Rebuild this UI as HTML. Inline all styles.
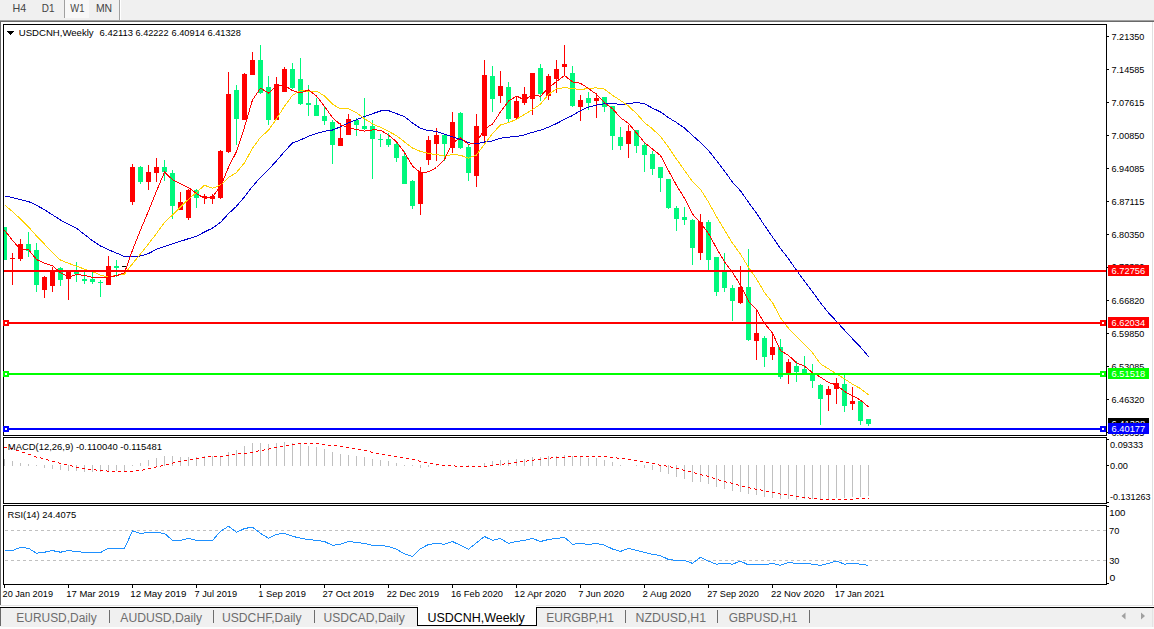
<!DOCTYPE html>
<html><head><meta charset="utf-8"><title>USDCNH,Weekly</title>
<style>html,body{margin:0;padding:0;background:#fff;width:1154px;height:629px;overflow:hidden}svg{display:block}text{font-family:"Liberation Sans", sans-serif}</style>
</head><body><svg width="1154" height="629" viewBox="0 0 1154 629" shape-rendering="crispEdges" font-family='"Liberation Sans", sans-serif'><rect x="0" y="0" width="1154" height="629" fill="#FFFFFF"/>
<rect x="0" y="0" width="1154" height="20" fill="#F0F0F0"/>
<rect x="0" y="20" width="1154" height="1" fill="#A0A0A0"/>
<rect x="0" y="21" width="1154" height="1" fill="#696969"/>
<rect x="65" y="0" width="24" height="18" fill="#F8F8F8"/>
<rect x="64" y="0" width="1" height="18" fill="#A0A0A0"/>
<rect x="119" y="0" width="1" height="20" fill="#A0A0A0"/>
<rect x="120" y="0" width="1" height="20" fill="#FFFFFF"/>
<text x="12.62" y="12" font-size="10.5" fill="#444" textLength="13.69" lengthAdjust="spacingAndGlyphs">H4</text>
<text x="41.79" y="12" font-size="10.5" fill="#444" textLength="12.71" lengthAdjust="spacingAndGlyphs">D1</text>
<text x="70.35" y="12" font-size="10.5" fill="#444" textLength="14.11" lengthAdjust="spacingAndGlyphs">W1</text>
<text x="95.95" y="12" font-size="10.5" fill="#444" textLength="16.20" lengthAdjust="spacingAndGlyphs">MN</text>
<rect x="0" y="22" width="1" height="583" fill="#696969"/>
<rect x="1152" y="22" width="1" height="583" fill="#E0E0E0"/>
<rect x="0" y="605" width="1154" height="1" fill="#E3E3E3"/>
<rect x="3" y="24" width="1104" height="1" fill="#000000"/>
<rect x="3" y="435" width="1104" height="1" fill="#000000"/>
<rect x="3" y="24" width="1" height="412" fill="#000000"/>
<rect x="1106" y="24" width="1" height="412" fill="#000000"/>
<rect x="3" y="437" width="1104" height="1" fill="#000000"/>
<rect x="3" y="503" width="1104" height="1" fill="#000000"/>
<rect x="3" y="437" width="1" height="67" fill="#000000"/>
<rect x="1106" y="437" width="1" height="67" fill="#000000"/>
<rect x="3" y="505" width="1104" height="1" fill="#000000"/>
<rect x="3" y="584" width="1104" height="1" fill="#000000"/>
<rect x="3" y="505" width="1" height="80" fill="#000000"/>
<rect x="1106" y="505" width="1" height="80" fill="#000000"/>
<defs><clipPath id="cm"><rect x="4" y="25" width="1102" height="410"/></clipPath><clipPath id="cmacd"><rect x="4" y="438" width="1102" height="65"/></clipPath><clipPath id="crsi"><rect x="4" y="506" width="1102" height="78"/></clipPath></defs>
<g clip-path="url(#cm)">
<rect x="4" y="227" width="1" height="33" fill="#00F87C"/>
<rect x="2" y="227" width="5" height="33" fill="#00F87C"/>
<rect x="12" y="253" width="1" height="32" fill="#FF0000"/>
<rect x="10" y="258" width="5" height="1" fill="#FF0000"/>
<rect x="20" y="239" width="1" height="22" fill="#FF0000"/>
<rect x="18" y="244" width="5" height="15" fill="#FF0000"/>
<rect x="28" y="232" width="1" height="25" fill="#00F87C"/>
<rect x="26" y="244" width="5" height="7" fill="#00F87C"/>
<rect x="36" y="243" width="1" height="49" fill="#00F87C"/>
<rect x="34" y="250" width="5" height="35" fill="#00F87C"/>
<rect x="44" y="276" width="1" height="22" fill="#FF0000"/>
<rect x="42" y="277" width="5" height="13" fill="#FF0000"/>
<rect x="52" y="267" width="1" height="25" fill="#FF0000"/>
<rect x="50" y="271" width="5" height="15" fill="#FF0000"/>
<rect x="60" y="267" width="1" height="19" fill="#00F87C"/>
<rect x="58" y="268" width="5" height="12" fill="#00F87C"/>
<rect x="68" y="270" width="1" height="30" fill="#FF0000"/>
<rect x="66" y="271" width="5" height="8" fill="#FF0000"/>
<rect x="76" y="262" width="1" height="20" fill="#00F87C"/>
<rect x="74" y="272" width="5" height="2" fill="#00F87C"/>
<rect x="84" y="272" width="1" height="12" fill="#00F87C"/>
<rect x="82" y="279" width="5" height="2" fill="#00F87C"/>
<rect x="92" y="272" width="1" height="12" fill="#00F87C"/>
<rect x="90" y="279" width="5" height="3" fill="#00F87C"/>
<rect x="100" y="280" width="1" height="17" fill="#00F87C"/>
<rect x="98" y="282" width="5" height="1" fill="#00F87C"/>
<rect x="108" y="256" width="1" height="29" fill="#FF0000"/>
<rect x="106" y="266" width="5" height="19" fill="#FF0000"/>
<rect x="116" y="260" width="1" height="17" fill="#00F87C"/>
<rect x="114" y="266" width="5" height="2" fill="#00F87C"/>
<rect x="124" y="266" width="1" height="1" fill="#000000"/>
<rect x="122" y="266" width="5" height="1" fill="#000000"/>
<rect x="132" y="164" width="1" height="41" fill="#FF0000"/>
<rect x="130" y="167" width="5" height="35" fill="#FF0000"/>
<rect x="140" y="166" width="1" height="18" fill="#00F87C"/>
<rect x="138" y="167" width="5" height="15" fill="#00F87C"/>
<rect x="148" y="165" width="1" height="25" fill="#FF0000"/>
<rect x="146" y="172" width="5" height="10" fill="#FF0000"/>
<rect x="156" y="158" width="1" height="24" fill="#FF0000"/>
<rect x="154" y="167" width="5" height="6" fill="#FF0000"/>
<rect x="164" y="160" width="1" height="21" fill="#00F87C"/>
<rect x="162" y="167" width="5" height="5" fill="#00F87C"/>
<rect x="172" y="170" width="1" height="49" fill="#00F87C"/>
<rect x="170" y="173" width="5" height="33" fill="#00F87C"/>
<rect x="180" y="192" width="1" height="18" fill="#FF0000"/>
<rect x="178" y="202" width="5" height="8" fill="#FF0000"/>
<rect x="188" y="189" width="1" height="31" fill="#FF0000"/>
<rect x="186" y="190" width="5" height="28" fill="#FF0000"/>
<rect x="196" y="189" width="1" height="19" fill="#00F87C"/>
<rect x="194" y="190" width="5" height="8" fill="#00F87C"/>
<rect x="204" y="194" width="1" height="10" fill="#FF0000"/>
<rect x="202" y="196" width="5" height="2" fill="#FF0000"/>
<rect x="212" y="194" width="1" height="10" fill="#FF0000"/>
<rect x="210" y="196" width="5" height="3" fill="#FF0000"/>
<rect x="220" y="150" width="1" height="49" fill="#FF0000"/>
<rect x="218" y="151" width="5" height="47" fill="#FF0000"/>
<rect x="228" y="72" width="1" height="81" fill="#FF0000"/>
<rect x="226" y="94" width="5" height="58" fill="#FF0000"/>
<rect x="236" y="85" width="1" height="60" fill="#00F87C"/>
<rect x="234" y="90" width="5" height="29" fill="#00F87C"/>
<rect x="244" y="73" width="1" height="47" fill="#FF0000"/>
<rect x="242" y="74" width="5" height="46" fill="#FF0000"/>
<rect x="252" y="52" width="1" height="23" fill="#FF0000"/>
<rect x="250" y="60" width="5" height="15" fill="#FF0000"/>
<rect x="260" y="45" width="1" height="49" fill="#00F87C"/>
<rect x="258" y="60" width="5" height="33" fill="#00F87C"/>
<rect x="268" y="76" width="1" height="49" fill="#00F87C"/>
<rect x="266" y="87" width="5" height="33" fill="#00F87C"/>
<rect x="276" y="77" width="1" height="43" fill="#FF0000"/>
<rect x="274" y="84" width="5" height="36" fill="#FF0000"/>
<rect x="284" y="67" width="1" height="25" fill="#FF0000"/>
<rect x="282" y="69" width="5" height="23" fill="#FF0000"/>
<rect x="292" y="63" width="1" height="26" fill="#00F87C"/>
<rect x="290" y="69" width="5" height="19" fill="#00F87C"/>
<rect x="300" y="58" width="1" height="47" fill="#00F87C"/>
<rect x="298" y="79" width="5" height="25" fill="#00F87C"/>
<rect x="308" y="85" width="1" height="31" fill="#00F87C"/>
<rect x="306" y="103" width="5" height="2" fill="#00F87C"/>
<rect x="316" y="98" width="1" height="18" fill="#00F87C"/>
<rect x="314" y="105" width="5" height="11" fill="#00F87C"/>
<rect x="324" y="106" width="1" height="19" fill="#00F87C"/>
<rect x="322" y="116" width="5" height="5" fill="#00F87C"/>
<rect x="332" y="120" width="1" height="44" fill="#00F87C"/>
<rect x="330" y="122" width="5" height="23" fill="#00F87C"/>
<rect x="340" y="123" width="1" height="23" fill="#FF0000"/>
<rect x="338" y="138" width="5" height="8" fill="#FF0000"/>
<rect x="348" y="114" width="1" height="21" fill="#FF0000"/>
<rect x="346" y="119" width="5" height="16" fill="#FF0000"/>
<rect x="356" y="118" width="1" height="18" fill="#00F87C"/>
<rect x="354" y="120" width="5" height="5" fill="#00F87C"/>
<rect x="364" y="98" width="1" height="32" fill="#00F87C"/>
<rect x="362" y="126" width="5" height="3" fill="#00F87C"/>
<rect x="372" y="120" width="1" height="59" fill="#00F87C"/>
<rect x="370" y="126" width="5" height="13" fill="#00F87C"/>
<rect x="380" y="134" width="1" height="13" fill="#00F87C"/>
<rect x="378" y="139" width="5" height="1" fill="#00F87C"/>
<rect x="388" y="133" width="1" height="14" fill="#00F87C"/>
<rect x="386" y="139" width="5" height="6" fill="#00F87C"/>
<rect x="396" y="143" width="1" height="19" fill="#00F87C"/>
<rect x="394" y="144" width="5" height="14" fill="#00F87C"/>
<rect x="404" y="151" width="1" height="33" fill="#00F87C"/>
<rect x="402" y="156" width="5" height="28" fill="#00F87C"/>
<rect x="412" y="180" width="1" height="29" fill="#00F87C"/>
<rect x="410" y="181" width="5" height="25" fill="#00F87C"/>
<rect x="420" y="167" width="1" height="48" fill="#FF0000"/>
<rect x="418" y="172" width="5" height="32" fill="#FF0000"/>
<rect x="428" y="136" width="1" height="29" fill="#FF0000"/>
<rect x="426" y="140" width="5" height="20" fill="#FF0000"/>
<rect x="436" y="128" width="1" height="33" fill="#FF0000"/>
<rect x="434" y="135" width="5" height="9" fill="#FF0000"/>
<rect x="444" y="134" width="1" height="27" fill="#00F87C"/>
<rect x="442" y="135" width="5" height="9" fill="#00F87C"/>
<rect x="452" y="112" width="1" height="41" fill="#FF0000"/>
<rect x="450" y="122" width="5" height="26" fill="#FF0000"/>
<rect x="460" y="112" width="1" height="37" fill="#00F87C"/>
<rect x="458" y="113" width="5" height="35" fill="#00F87C"/>
<rect x="468" y="145" width="1" height="36" fill="#00F87C"/>
<rect x="466" y="147" width="5" height="26" fill="#00F87C"/>
<rect x="476" y="114" width="1" height="73" fill="#FF0000"/>
<rect x="474" y="126" width="5" height="50" fill="#FF0000"/>
<rect x="484" y="60" width="1" height="82" fill="#FF0000"/>
<rect x="482" y="75" width="5" height="61" fill="#FF0000"/>
<rect x="492" y="66" width="1" height="46" fill="#00F87C"/>
<rect x="490" y="76" width="5" height="23" fill="#00F87C"/>
<rect x="500" y="71" width="1" height="32" fill="#FF0000"/>
<rect x="498" y="86" width="5" height="10" fill="#FF0000"/>
<rect x="508" y="82" width="1" height="40" fill="#00F87C"/>
<rect x="506" y="87" width="5" height="32" fill="#00F87C"/>
<rect x="516" y="96" width="1" height="24" fill="#FF0000"/>
<rect x="514" y="101" width="5" height="17" fill="#FF0000"/>
<rect x="524" y="87" width="1" height="18" fill="#FF0000"/>
<rect x="522" y="94" width="5" height="9" fill="#FF0000"/>
<rect x="532" y="73" width="1" height="42" fill="#FF0000"/>
<rect x="530" y="73" width="5" height="26" fill="#FF0000"/>
<rect x="540" y="64" width="1" height="37" fill="#00F87C"/>
<rect x="538" y="68" width="5" height="26" fill="#00F87C"/>
<rect x="548" y="74" width="1" height="26" fill="#FF0000"/>
<rect x="546" y="76" width="5" height="20" fill="#FF0000"/>
<rect x="556" y="60" width="1" height="33" fill="#FF0000"/>
<rect x="554" y="69" width="5" height="10" fill="#FF0000"/>
<rect x="564" y="45" width="1" height="31" fill="#FF0000"/>
<rect x="562" y="64" width="5" height="3" fill="#FF0000"/>
<rect x="572" y="66" width="1" height="41" fill="#00F87C"/>
<rect x="570" y="73" width="5" height="33" fill="#00F87C"/>
<rect x="580" y="95" width="1" height="26" fill="#FF0000"/>
<rect x="578" y="100" width="5" height="7" fill="#FF0000"/>
<rect x="588" y="92" width="1" height="18" fill="#00F87C"/>
<rect x="586" y="98" width="5" height="5" fill="#00F87C"/>
<rect x="596" y="93" width="1" height="25" fill="#FF0000"/>
<rect x="594" y="98" width="5" height="3" fill="#FF0000"/>
<rect x="604" y="97" width="1" height="15" fill="#00F87C"/>
<rect x="602" y="97" width="5" height="10" fill="#00F87C"/>
<rect x="612" y="106" width="1" height="44" fill="#00F87C"/>
<rect x="610" y="106" width="5" height="30" fill="#00F87C"/>
<rect x="620" y="127" width="1" height="23" fill="#00F87C"/>
<rect x="618" y="137" width="5" height="9" fill="#00F87C"/>
<rect x="628" y="125" width="1" height="33" fill="#FF0000"/>
<rect x="626" y="131" width="5" height="13" fill="#FF0000"/>
<rect x="636" y="130" width="1" height="23" fill="#00F87C"/>
<rect x="634" y="130" width="5" height="16" fill="#00F87C"/>
<rect x="644" y="143" width="1" height="29" fill="#00F87C"/>
<rect x="642" y="145" width="5" height="10" fill="#00F87C"/>
<rect x="652" y="151" width="1" height="24" fill="#00F87C"/>
<rect x="650" y="154" width="5" height="15" fill="#00F87C"/>
<rect x="660" y="167" width="1" height="25" fill="#00F87C"/>
<rect x="658" y="167" width="5" height="11" fill="#00F87C"/>
<rect x="668" y="179" width="1" height="30" fill="#00F87C"/>
<rect x="666" y="179" width="5" height="29" fill="#00F87C"/>
<rect x="676" y="206" width="1" height="25" fill="#00F87C"/>
<rect x="674" y="208" width="5" height="11" fill="#00F87C"/>
<rect x="684" y="207" width="1" height="18" fill="#00F87C"/>
<rect x="682" y="217" width="5" height="3" fill="#00F87C"/>
<rect x="692" y="219" width="1" height="46" fill="#00F87C"/>
<rect x="690" y="220" width="5" height="28" fill="#00F87C"/>
<rect x="700" y="214" width="1" height="46" fill="#FF0000"/>
<rect x="698" y="222" width="5" height="31" fill="#FF0000"/>
<rect x="708" y="220" width="1" height="50" fill="#00F87C"/>
<rect x="706" y="222" width="5" height="38" fill="#00F87C"/>
<rect x="716" y="257" width="1" height="39" fill="#00F87C"/>
<rect x="714" y="257" width="5" height="35" fill="#00F87C"/>
<rect x="724" y="253" width="1" height="39" fill="#00F87C"/>
<rect x="722" y="270" width="5" height="18" fill="#00F87C"/>
<rect x="732" y="285" width="1" height="36" fill="#00F87C"/>
<rect x="730" y="288" width="5" height="13" fill="#00F87C"/>
<rect x="740" y="266" width="1" height="38" fill="#FF0000"/>
<rect x="738" y="287" width="5" height="16" fill="#FF0000"/>
<rect x="748" y="249" width="1" height="92" fill="#00F87C"/>
<rect x="746" y="287" width="5" height="53" fill="#00F87C"/>
<rect x="756" y="310" width="1" height="50" fill="#FF0000"/>
<rect x="754" y="333" width="5" height="8" fill="#FF0000"/>
<rect x="764" y="336" width="1" height="31" fill="#00F87C"/>
<rect x="762" y="338" width="5" height="19" fill="#00F87C"/>
<rect x="772" y="333" width="1" height="27" fill="#FF0000"/>
<rect x="770" y="347" width="5" height="8" fill="#FF0000"/>
<rect x="780" y="339" width="1" height="40" fill="#00F87C"/>
<rect x="778" y="347" width="5" height="30" fill="#00F87C"/>
<rect x="788" y="359" width="1" height="25" fill="#FF0000"/>
<rect x="786" y="362" width="5" height="11" fill="#FF0000"/>
<rect x="796" y="361" width="1" height="21" fill="#00F87C"/>
<rect x="794" y="366" width="5" height="6" fill="#00F87C"/>
<rect x="804" y="356" width="1" height="17" fill="#00F87C"/>
<rect x="802" y="369" width="5" height="4" fill="#00F87C"/>
<rect x="812" y="364" width="1" height="24" fill="#00F87C"/>
<rect x="810" y="374" width="5" height="7" fill="#00F87C"/>
<rect x="820" y="384" width="1" height="41" fill="#00F87C"/>
<rect x="818" y="385" width="5" height="14" fill="#00F87C"/>
<rect x="828" y="386" width="1" height="25" fill="#FF0000"/>
<rect x="826" y="389" width="5" height="6" fill="#FF0000"/>
<rect x="836" y="378" width="1" height="26" fill="#FF0000"/>
<rect x="834" y="383" width="5" height="6" fill="#FF0000"/>
<rect x="844" y="375" width="1" height="37" fill="#00F87C"/>
<rect x="842" y="384" width="5" height="22" fill="#00F87C"/>
<rect x="852" y="387" width="1" height="23" fill="#FF0000"/>
<rect x="850" y="401" width="5" height="3" fill="#FF0000"/>
<rect x="860" y="400" width="1" height="25" fill="#00F87C"/>
<rect x="858" y="401" width="5" height="20" fill="#00F87C"/>
<rect x="868" y="419" width="1" height="7" fill="#00F87C"/>
<rect x="866" y="419" width="5" height="5" fill="#00F87C"/>
<polyline points="4.5,195.8 12.5,197.7 20.5,199.6 28.5,201.5 36.5,205.3 44.5,209.7 52.5,214.9 60.5,220.0 68.5,224.4 76.5,228.2 84.5,234.5 92.5,240.7 100.5,246.0 108.5,249.8 116.5,253.1 124.5,256.5 132.5,256.9 140.5,255.9 148.5,253.6 156.5,249.2 164.5,246.5 172.5,243.9 180.5,241.3 188.5,238.7 196.5,236.2 204.5,232.0 212.5,228.1 220.5,222.4 228.5,213.6 236.5,206.3 244.5,196.8 252.5,186.4 260.5,177.4 268.5,169.6 276.5,160.9 284.5,151.5 292.5,143.0 300.5,139.9 308.5,136.3 316.5,133.5 324.5,131.3 332.5,130.0 340.5,126.8 348.5,122.9 356.5,119.7 364.5,116.5 372.5,113.7 380.5,111.0 388.5,110.6 396.5,113.6 404.5,116.7 412.5,123.0 420.5,128.3 428.5,130.6 436.5,131.4 444.5,134.2 452.5,136.7 460.5,139.5 468.5,142.8 476.5,143.9 484.5,142.0 492.5,140.9 500.5,138.2 508.5,137.2 516.5,136.4 524.5,134.9 532.5,132.3 540.5,130.2 548.5,127.2 556.5,123.6 564.5,119.2 572.5,115.5 580.5,110.5 588.5,107.1 596.5,105.1 604.5,103.7 612.5,103.4 620.5,104.5 628.5,103.7 636.5,102.4 644.5,103.7 652.5,108.2 660.5,111.9 668.5,117.7 676.5,122.5 684.5,128.1 692.5,135.4 700.5,142.5 708.5,150.4 716.5,160.6 724.5,171.0 732.5,182.2 740.5,190.9 748.5,202.3 756.5,213.3 764.5,225.5 772.5,237.0 780.5,248.5 788.5,258.8 796.5,270.3 804.5,281.1 812.5,291.8 820.5,302.8 828.5,312.9 836.5,321.3 844.5,330.2 852.5,338.8 860.5,347.1 868.5,356.6" fill="none" stroke="#0000CD" stroke-width="1" shape-rendering="crispEdges"/>
<polyline points="4.5,204.8 12.5,211.6 20.5,219.0 28.5,226.9 36.5,235.9 44.5,244.2 52.5,252.8 60.5,260.1 68.5,263.3 76.5,266.1 84.5,269.2 92.5,271.5 100.5,275.3 108.5,276.9 116.5,275.2 124.5,274.1 132.5,263.7 140.5,253.9 148.5,244.0 156.5,233.4 164.5,222.5 172.5,214.9 180.5,206.9 188.5,199.3 196.5,192.3 204.5,185.3 212.5,188.2 220.5,185.2 228.5,177.4 236.5,172.5 244.5,162.8 252.5,148.3 260.5,137.3 268.5,130.2 276.5,118.9 284.5,106.2 292.5,95.3 300.5,90.5 308.5,91.5 316.5,91.2 324.5,95.8 332.5,104.2 340.5,108.8 348.5,108.8 356.5,112.8 364.5,118.7 372.5,123.8 380.5,127.4 388.5,131.4 396.5,135.6 404.5,141.9 412.5,148.0 420.5,151.4 428.5,153.5 436.5,154.6 444.5,156.1 452.5,154.5 460.5,155.3 468.5,158.1 476.5,155.0 484.5,144.2 492.5,133.5 500.5,124.9 508.5,122.7 516.5,119.3 524.5,114.4 532.5,109.5 540.5,104.1 548.5,94.5 556.5,88.8 564.5,87.7 572.5,88.4 580.5,89.8 588.5,88.2 596.5,87.9 604.5,89.1 612.5,95.3 620.5,100.5 628.5,106.0 636.5,113.6 644.5,122.6 652.5,128.9 660.5,136.6 668.5,147.1 676.5,159.1 684.5,170.4 692.5,181.6 700.5,189.3 708.5,202.1 716.5,216.7 724.5,230.0 732.5,243.2 740.5,254.2 748.5,267.4 756.5,278.9 764.5,292.6 772.5,302.6 780.5,318.0 788.5,328.3 796.5,336.3 804.5,344.8 812.5,352.8 820.5,363.9 828.5,368.9 836.5,373.9 844.5,378.8 852.5,384.2 860.5,388.6 868.5,394.7" fill="none" stroke="#FFD200" stroke-width="1" shape-rendering="crispEdges"/>
<polyline points="4.5,230.1 12.5,240.4 20.5,249.5 28.5,249.6 36.5,259.5 44.5,263.1 52.5,265.7 60.5,272.7 68.5,276.9 76.5,274.7 84.5,275.3 92.5,277.3 100.5,277.9 108.5,276.9 116.5,275.7 124.5,272.9 132.5,250.1 140.5,229.9 148.5,211.1 156.5,191.1 164.5,172.1 172.5,179.7 180.5,183.9 188.5,187.5 196.5,193.5 204.5,198.5 212.5,196.7 220.5,186.5 228.5,167.3 236.5,151.5 244.5,127.1 252.5,99.9 260.5,88.1 268.5,93.1 276.5,86.3 284.5,85.3 292.5,90.7 300.5,92.9 308.5,89.9 316.5,96.1 324.5,106.3 332.5,117.7 340.5,124.7 348.5,127.7 356.5,129.5 364.5,131.1 372.5,129.9 380.5,130.1 388.5,135.1 396.5,141.7 404.5,152.7 412.5,166.1 420.5,172.7 428.5,171.9 436.5,167.5 444.5,159.5 452.5,142.9 460.5,137.9 468.5,144.3 476.5,142.5 484.5,128.9 492.5,124.1 500.5,111.9 508.5,101.1 516.5,96.1 524.5,99.9 532.5,94.9 540.5,96.3 548.5,87.9 556.5,81.5 564.5,75.5 572.5,81.9 580.5,83.3 588.5,88.5 596.5,94.3 604.5,102.7 612.5,108.7 620.5,117.7 628.5,123.5 636.5,132.9 644.5,142.5 652.5,149.1 660.5,155.5 668.5,170.7 676.5,185.3 684.5,198.3 692.5,214.1 700.5,223.1 708.5,233.5 716.5,248.1 724.5,261.7 732.5,272.3 740.5,285.3 748.5,301.3 756.5,309.7 764.5,323.5 772.5,332.9 780.5,350.7 788.5,355.3 796.5,362.9 804.5,366.1 812.5,372.7 820.5,377.1 828.5,382.5 836.5,384.9 844.5,391.5 852.5,395.7 860.5,400.1 868.5,406.9" fill="none" stroke="#FF0000" stroke-width="1" shape-rendering="crispEdges"/>
<rect x="4" y="270" width="1102" height="2" fill="#FF0000"/>
<rect x="4" y="322" width="1102" height="2" fill="#FF0000"/>
<rect x="4" y="373" width="1102" height="2" fill="#00FF00"/>
<rect x="4" y="428" width="1102" height="2" fill="#0000FF"/>
</g>
<rect x="3" y="320" width="6" height="6" fill="#FF0000"/>
<rect x="5" y="322" width="2" height="2" fill="#FFFFFF"/>
<rect x="1100" y="320" width="6" height="6" fill="#FF0000"/>
<rect x="1102" y="322" width="2" height="2" fill="#FFFFFF"/>
<rect x="3" y="371" width="6" height="6" fill="#00FF00"/>
<rect x="5" y="373" width="2" height="2" fill="#FFFFFF"/>
<rect x="1100" y="371" width="6" height="6" fill="#00FF00"/>
<rect x="1102" y="373" width="2" height="2" fill="#FFFFFF"/>
<rect x="3" y="426" width="6" height="6" fill="#0000FF"/>
<rect x="5" y="428" width="2" height="2" fill="#FFFFFF"/>
<rect x="1100" y="426" width="6" height="6" fill="#0000FF"/>
<rect x="1102" y="428" width="2" height="2" fill="#FFFFFF"/>
<path d="M7,31 L14,31 L10.5,35 Z" fill="#000"/>
<text x="18.76" y="36" font-size="9.5" fill="#000" textLength="74.86" lengthAdjust="spacingAndGlyphs">USDCNH,Weekly</text>
<text x="99.52" y="36" font-size="9.5" fill="#000" textLength="33.50" lengthAdjust="spacingAndGlyphs">6.42113</text>
<text x="135.54" y="36" font-size="9.5" fill="#000" textLength="32.92" lengthAdjust="spacingAndGlyphs">6.42222</text>
<text x="171.53" y="36" font-size="9.5" fill="#000" textLength="33.44" lengthAdjust="spacingAndGlyphs">6.40914</text>
<text x="207.53" y="36" font-size="9.5" fill="#000" textLength="33.37" lengthAdjust="spacingAndGlyphs">6.41328</text>
<rect x="1107" y="36" width="2" height="1" fill="#000000"/>
<text x="1111.54" y="40" font-size="9.5" fill="#000" textLength="32.81" lengthAdjust="spacingAndGlyphs">7.21350</text>
<rect x="1107" y="69" width="2" height="1" fill="#000000"/>
<text x="1111.54" y="73" font-size="9.5" fill="#000" textLength="32.84" lengthAdjust="spacingAndGlyphs">7.14585</text>
<rect x="1107" y="102" width="2" height="1" fill="#000000"/>
<text x="1111.54" y="106" font-size="9.5" fill="#000" textLength="32.84" lengthAdjust="spacingAndGlyphs">7.07615</text>
<rect x="1107" y="135" width="2" height="1" fill="#000000"/>
<text x="1111.54" y="139" font-size="9.5" fill="#000" textLength="32.81" lengthAdjust="spacingAndGlyphs">7.00850</text>
<rect x="1107" y="168" width="2" height="1" fill="#000000"/>
<text x="1111.54" y="172" font-size="9.5" fill="#000" textLength="32.84" lengthAdjust="spacingAndGlyphs">6.94085</text>
<rect x="1107" y="201" width="2" height="1" fill="#000000"/>
<text x="1111.53" y="205" font-size="9.5" fill="#000" textLength="32.87" lengthAdjust="spacingAndGlyphs">6.87115</text>
<rect x="1107" y="234" width="2" height="1" fill="#000000"/>
<text x="1111.54" y="238" font-size="9.5" fill="#000" textLength="32.81" lengthAdjust="spacingAndGlyphs">6.80350</text>
<rect x="1107" y="267" width="2" height="1" fill="#000000"/>
<text x="1111.54" y="270" font-size="9.5" fill="#000" textLength="32.81" lengthAdjust="spacingAndGlyphs">6.73380</text>
<rect x="1107" y="300" width="2" height="1" fill="#000000"/>
<text x="1111.54" y="304" font-size="9.5" fill="#000" textLength="32.81" lengthAdjust="spacingAndGlyphs">6.66820</text>
<rect x="1107" y="333" width="2" height="1" fill="#000000"/>
<text x="1111.54" y="337" font-size="9.5" fill="#000" textLength="32.81" lengthAdjust="spacingAndGlyphs">6.59850</text>
<rect x="1107" y="366" width="2" height="1" fill="#000000"/>
<text x="1111.54" y="370" font-size="9.5" fill="#000" textLength="32.84" lengthAdjust="spacingAndGlyphs">6.53085</text>
<rect x="1107" y="399" width="2" height="1" fill="#000000"/>
<text x="1111.54" y="403" font-size="9.5" fill="#000" textLength="32.81" lengthAdjust="spacingAndGlyphs">6.46320</text>
<rect x="1107" y="432" width="2" height="1" fill="#000000"/>
<text x="1111.54" y="436" font-size="9.5" fill="#000" textLength="32.84" lengthAdjust="spacingAndGlyphs">6.39355</text>
<rect x="1108" y="265" width="41" height="11" fill="#FF0000"/>
<text x="1111.52" y="274" font-size="9.5" fill="#FFFFFF" textLength="33.68" lengthAdjust="spacingAndGlyphs">6.72756</text>
<rect x="1108" y="317" width="41" height="11" fill="#FF0000"/>
<text x="1111.53" y="326" font-size="9.5" fill="#FFFFFF" textLength="33.54" lengthAdjust="spacingAndGlyphs">6.62034</text>
<rect x="1108" y="368" width="41" height="11" fill="#00FF00"/>
<text x="1111.52" y="377" font-size="9.5" fill="#FFFFFF" textLength="33.67" lengthAdjust="spacingAndGlyphs">6.51518</text>
<rect x="1108" y="418" width="41" height="11" fill="#000000"/>
<text x="1111.52" y="427" font-size="9.5" fill="#FFFFFF" textLength="33.67" lengthAdjust="spacingAndGlyphs">6.41328</text>
<rect x="1108" y="423" width="41" height="11" fill="#0000FF"/>
<text x="1111.52" y="432" font-size="9.5" fill="#FFFFFF" textLength="33.74" lengthAdjust="spacingAndGlyphs">6.40177</text>
<g clip-path="url(#cmacd)">
<rect x="4" y="459" width="1" height="7" fill="#C0C0C0"/>
<rect x="12" y="461" width="1" height="5" fill="#C0C0C0"/>
<rect x="20" y="463" width="1" height="3" fill="#C0C0C0"/>
<rect x="28" y="464" width="1" height="2" fill="#C0C0C0"/>
<rect x="36" y="465" width="1" height="1" fill="#C0C0C0"/>
<rect x="44" y="465" width="1" height="3" fill="#C0C0C0"/>
<rect x="52" y="465" width="1" height="4" fill="#C0C0C0"/>
<rect x="60" y="465" width="1" height="5" fill="#C0C0C0"/>
<rect x="68" y="465" width="1" height="6" fill="#C0C0C0"/>
<rect x="76" y="465" width="1" height="6" fill="#C0C0C0"/>
<rect x="84" y="465" width="1" height="7" fill="#C0C0C0"/>
<rect x="92" y="465" width="1" height="7" fill="#C0C0C0"/>
<rect x="100" y="465" width="1" height="7" fill="#C0C0C0"/>
<rect x="108" y="465" width="1" height="7" fill="#C0C0C0"/>
<rect x="116" y="465" width="1" height="6" fill="#C0C0C0"/>
<rect x="124" y="465" width="1" height="7" fill="#C0C0C0"/>
<rect x="132" y="465" width="1" height="1" fill="#C0C0C0"/>
<rect x="140" y="463" width="1" height="3" fill="#C0C0C0"/>
<rect x="148" y="460" width="1" height="6" fill="#C0C0C0"/>
<rect x="156" y="458" width="1" height="8" fill="#C0C0C0"/>
<rect x="164" y="456" width="1" height="10" fill="#C0C0C0"/>
<rect x="172" y="456" width="1" height="10" fill="#C0C0C0"/>
<rect x="180" y="457" width="1" height="9" fill="#C0C0C0"/>
<rect x="188" y="457" width="1" height="9" fill="#C0C0C0"/>
<rect x="196" y="457" width="1" height="9" fill="#C0C0C0"/>
<rect x="204" y="456" width="1" height="10" fill="#C0C0C0"/>
<rect x="212" y="456" width="1" height="10" fill="#C0C0C0"/>
<rect x="220" y="456" width="1" height="10" fill="#C0C0C0"/>
<rect x="228" y="452" width="1" height="14" fill="#C0C0C0"/>
<rect x="236" y="450" width="1" height="16" fill="#C0C0C0"/>
<rect x="244" y="446" width="1" height="20" fill="#C0C0C0"/>
<rect x="252" y="443" width="1" height="23" fill="#C0C0C0"/>
<rect x="260" y="443" width="1" height="23" fill="#C0C0C0"/>
<rect x="268" y="444" width="1" height="22" fill="#C0C0C0"/>
<rect x="276" y="443" width="1" height="23" fill="#C0C0C0"/>
<rect x="284" y="442" width="1" height="24" fill="#C0C0C0"/>
<rect x="292" y="443" width="1" height="23" fill="#C0C0C0"/>
<rect x="300" y="444" width="1" height="22" fill="#C0C0C0"/>
<rect x="308" y="446" width="1" height="20" fill="#C0C0C0"/>
<rect x="316" y="447" width="1" height="19" fill="#C0C0C0"/>
<rect x="324" y="449" width="1" height="17" fill="#C0C0C0"/>
<rect x="332" y="452" width="1" height="14" fill="#C0C0C0"/>
<rect x="340" y="454" width="1" height="12" fill="#C0C0C0"/>
<rect x="348" y="455" width="1" height="11" fill="#C0C0C0"/>
<rect x="356" y="456" width="1" height="10" fill="#C0C0C0"/>
<rect x="364" y="457" width="1" height="9" fill="#C0C0C0"/>
<rect x="372" y="459" width="1" height="7" fill="#C0C0C0"/>
<rect x="380" y="460" width="1" height="6" fill="#C0C0C0"/>
<rect x="388" y="461" width="1" height="5" fill="#C0C0C0"/>
<rect x="396" y="463" width="1" height="3" fill="#C0C0C0"/>
<rect x="404" y="465" width="1" height="1" fill="#C0C0C0"/>
<rect x="412" y="465" width="1" height="1" fill="#C0C0C0"/>
<rect x="420" y="465" width="1" height="3" fill="#C0C0C0"/>
<rect x="428" y="465" width="1" height="2" fill="#C0C0C0"/>
<rect x="436" y="465" width="1" height="1" fill="#C0C0C0"/>
<rect x="468" y="465" width="1" height="1" fill="#C0C0C0"/>
<rect x="484" y="463" width="1" height="3" fill="#C0C0C0"/>
<rect x="492" y="461" width="1" height="5" fill="#C0C0C0"/>
<rect x="500" y="460" width="1" height="6" fill="#C0C0C0"/>
<rect x="508" y="460" width="1" height="6" fill="#C0C0C0"/>
<rect x="516" y="459" width="1" height="7" fill="#C0C0C0"/>
<rect x="524" y="459" width="1" height="7" fill="#C0C0C0"/>
<rect x="532" y="457" width="1" height="9" fill="#C0C0C0"/>
<rect x="540" y="457" width="1" height="9" fill="#C0C0C0"/>
<rect x="548" y="456" width="1" height="10" fill="#C0C0C0"/>
<rect x="556" y="456" width="1" height="10" fill="#C0C0C0"/>
<rect x="564" y="455" width="1" height="11" fill="#C0C0C0"/>
<rect x="572" y="456" width="1" height="10" fill="#C0C0C0"/>
<rect x="580" y="456" width="1" height="10" fill="#C0C0C0"/>
<rect x="588" y="458" width="1" height="8" fill="#C0C0C0"/>
<rect x="596" y="458" width="1" height="8" fill="#C0C0C0"/>
<rect x="604" y="460" width="1" height="6" fill="#C0C0C0"/>
<rect x="612" y="462" width="1" height="4" fill="#C0C0C0"/>
<rect x="620" y="465" width="1" height="1" fill="#C0C0C0"/>
<rect x="636" y="465" width="1" height="1" fill="#C0C0C0"/>
<rect x="644" y="465" width="1" height="3" fill="#C0C0C0"/>
<rect x="652" y="465" width="1" height="5" fill="#C0C0C0"/>
<rect x="660" y="465" width="1" height="7" fill="#C0C0C0"/>
<rect x="668" y="465" width="1" height="9" fill="#C0C0C0"/>
<rect x="676" y="465" width="1" height="12" fill="#C0C0C0"/>
<rect x="684" y="465" width="1" height="14" fill="#C0C0C0"/>
<rect x="692" y="465" width="1" height="17" fill="#C0C0C0"/>
<rect x="700" y="465" width="1" height="17" fill="#C0C0C0"/>
<rect x="708" y="465" width="1" height="19" fill="#C0C0C0"/>
<rect x="716" y="465" width="1" height="22" fill="#C0C0C0"/>
<rect x="724" y="465" width="1" height="24" fill="#C0C0C0"/>
<rect x="732" y="465" width="1" height="26" fill="#C0C0C0"/>
<rect x="740" y="465" width="1" height="27" fill="#C0C0C0"/>
<rect x="748" y="465" width="1" height="29" fill="#C0C0C0"/>
<rect x="756" y="465" width="1" height="30" fill="#C0C0C0"/>
<rect x="764" y="465" width="1" height="32" fill="#C0C0C0"/>
<rect x="772" y="465" width="1" height="33" fill="#C0C0C0"/>
<rect x="780" y="465" width="1" height="34" fill="#C0C0C0"/>
<rect x="788" y="465" width="1" height="34" fill="#C0C0C0"/>
<rect x="796" y="465" width="1" height="35" fill="#C0C0C0"/>
<rect x="804" y="465" width="1" height="34" fill="#C0C0C0"/>
<rect x="812" y="465" width="1" height="34" fill="#C0C0C0"/>
<rect x="820" y="465" width="1" height="34" fill="#C0C0C0"/>
<rect x="828" y="465" width="1" height="34" fill="#C0C0C0"/>
<rect x="836" y="465" width="1" height="33" fill="#C0C0C0"/>
<rect x="844" y="465" width="1" height="33" fill="#C0C0C0"/>
<rect x="852" y="465" width="1" height="32" fill="#C0C0C0"/>
<rect x="860" y="465" width="1" height="32" fill="#C0C0C0"/>
<rect x="868" y="465" width="1" height="31" fill="#C0C0C0"/>
<path d="M4 447h1v1h-1zM5 447h1v1h-1zM6 447h1v1h-1zM10 448h1v1h-1zM11 448h1v1h-1zM12 448h1v1h-1zM16 450h1v1h-1zM17 450h1v1h-1zM18 450h1v1h-1zM22 452h1v1h-1zM23 452h1v1h-1zM24 452h1v1h-1zM28 454h1v1h-1zM29 454h1v1h-1zM30 454h1v1h-1zM34 456h1v1h-1zM35 456h1v1h-1zM36 457h1v1h-1zM40 457h1v1h-1zM41 458h1v1h-1zM42 458h1v1h-1zM46 459h1v1h-1zM47 459h1v1h-1zM48 460h1v1h-1zM52 461h1v1h-1zM53 461h1v1h-1zM54 461h1v1h-1zM58 462h1v1h-1zM59 463h1v1h-1zM60 463h1v1h-1zM64 464h1v1h-1zM65 464h1v1h-1zM66 464h1v1h-1zM70 465h1v1h-1zM71 465h1v1h-1zM72 466h1v1h-1zM76 467h1v1h-1zM77 467h1v1h-1zM78 467h1v1h-1zM82 468h1v1h-1zM83 468h1v1h-1zM84 468h1v1h-1zM88 469h1v1h-1zM89 469h1v1h-1zM90 469h1v1h-1zM94 469h1v1h-1zM95 469h1v1h-1zM96 470h1v1h-1zM100 470h1v1h-1zM101 470h1v1h-1zM102 470h1v1h-1zM106 470h1v1h-1zM107 471h1v1h-1zM108 471h1v1h-1zM112 471h1v1h-1zM113 471h1v1h-1zM114 471h1v1h-1zM118 471h1v1h-1zM119 471h1v1h-1zM120 471h1v1h-1zM124 471h1v1h-1zM125 471h1v1h-1zM126 471h1v1h-1zM130 471h1v1h-1zM131 471h1v1h-1zM132 471h1v1h-1zM136 470h1v1h-1zM137 470h1v1h-1zM138 470h1v1h-1zM142 470h1v1h-1zM143 469h1v1h-1zM144 469h1v1h-1zM148 468h1v1h-1zM149 468h1v1h-1zM150 468h1v1h-1zM154 467h1v1h-1zM155 467h1v1h-1zM156 466h1v1h-1zM160 466h1v1h-1zM161 465h1v1h-1zM162 465h1v1h-1zM166 464h1v1h-1zM167 464h1v1h-1zM168 464h1v1h-1zM172 463h1v1h-1zM173 462h1v1h-1zM174 462h1v1h-1zM178 461h1v1h-1zM179 461h1v1h-1zM180 461h1v1h-1zM184 460h1v1h-1zM185 460h1v1h-1zM186 460h1v1h-1zM190 459h1v1h-1zM191 459h1v1h-1zM192 459h1v1h-1zM196 458h1v1h-1zM197 458h1v1h-1zM198 458h1v1h-1zM202 457h1v1h-1zM203 457h1v1h-1zM204 457h1v1h-1zM208 456h1v1h-1zM209 456h1v1h-1zM210 456h1v1h-1zM214 456h1v1h-1zM215 456h1v1h-1zM216 456h1v1h-1zM220 456h1v1h-1zM221 456h1v1h-1zM222 456h1v1h-1zM226 455h1v1h-1zM227 455h1v1h-1zM228 455h1v1h-1zM232 454h1v1h-1zM233 454h1v1h-1zM234 454h1v1h-1zM238 453h1v1h-1zM239 453h1v1h-1zM240 453h1v1h-1zM244 453h1v1h-1zM245 453h1v1h-1zM246 453h1v1h-1zM250 452h1v1h-1zM251 452h1v1h-1zM252 452h1v1h-1zM256 451h1v1h-1zM257 451h1v1h-1zM258 450h1v1h-1zM262 450h1v1h-1zM263 450h1v1h-1zM264 449h1v1h-1zM268 449h1v1h-1zM269 448h1v1h-1zM270 448h1v1h-1zM274 447h1v1h-1zM275 447h1v1h-1zM276 447h1v1h-1zM280 446h1v1h-1zM281 446h1v1h-1zM282 446h1v1h-1zM286 445h1v1h-1zM287 445h1v1h-1zM288 445h1v1h-1zM292 444h1v1h-1zM293 444h1v1h-1zM294 444h1v1h-1zM298 443h1v1h-1zM299 443h1v1h-1zM300 443h1v1h-1zM304 443h1v1h-1zM305 443h1v1h-1zM306 443h1v1h-1zM310 443h1v1h-1zM311 443h1v1h-1zM312 443h1v1h-1zM316 443h1v1h-1zM317 443h1v1h-1zM318 443h1v1h-1zM322 444h1v1h-1zM323 444h1v1h-1zM324 444h1v1h-1zM328 445h1v1h-1zM329 445h1v1h-1zM330 445h1v1h-1zM334 445h1v1h-1zM335 445h1v1h-1zM336 445h1v1h-1zM340 446h1v1h-1zM341 446h1v1h-1zM342 446h1v1h-1zM346 447h1v1h-1zM347 447h1v1h-1zM348 447h1v1h-1zM352 448h1v1h-1zM353 448h1v1h-1zM354 448h1v1h-1zM358 449h1v1h-1zM359 449h1v1h-1zM360 449h1v1h-1zM364 450h1v1h-1zM365 450h1v1h-1zM366 450h1v1h-1zM370 451h1v1h-1zM371 452h1v1h-1zM372 452h1v1h-1zM376 453h1v1h-1zM377 453h1v1h-1zM378 453h1v1h-1zM382 454h1v1h-1zM383 454h1v1h-1zM384 454h1v1h-1zM388 455h1v1h-1zM389 455h1v1h-1zM390 455h1v1h-1zM394 456h1v1h-1zM395 456h1v1h-1zM396 456h1v1h-1zM400 457h1v1h-1zM401 457h1v1h-1zM402 457h1v1h-1zM406 458h1v1h-1zM407 458h1v1h-1zM408 458h1v1h-1zM412 459h1v1h-1zM413 459h1v1h-1zM414 459h1v1h-1zM418 460h1v1h-1zM419 461h1v1h-1zM420 461h1v1h-1zM424 462h1v1h-1zM425 462h1v1h-1zM426 462h1v1h-1zM430 463h1v1h-1zM431 463h1v1h-1zM432 463h1v1h-1zM436 464h1v1h-1zM437 464h1v1h-1zM438 464h1v1h-1zM442 465h1v1h-1zM443 465h1v1h-1zM444 465h1v1h-1zM448 465h1v1h-1zM449 465h1v1h-1zM450 465h1v1h-1zM454 465h1v1h-1zM455 466h1v1h-1zM456 466h1v1h-1zM460 466h1v1h-1zM461 466h1v1h-1zM462 466h1v1h-1zM466 466h1v1h-1zM467 466h1v1h-1zM468 466h1v1h-1zM472 466h1v1h-1zM473 466h1v1h-1zM474 466h1v1h-1zM478 466h1v1h-1zM479 466h1v1h-1zM480 466h1v1h-1zM484 466h1v1h-1zM485 466h1v1h-1zM486 466h1v1h-1zM490 465h1v1h-1zM491 465h1v1h-1zM492 465h1v1h-1zM496 464h1v1h-1zM497 464h1v1h-1zM498 464h1v1h-1zM502 464h1v1h-1zM503 464h1v1h-1zM504 463h1v1h-1zM508 463h1v1h-1zM509 463h1v1h-1zM510 463h1v1h-1zM514 462h1v1h-1zM515 462h1v1h-1zM516 462h1v1h-1zM520 461h1v1h-1zM521 461h1v1h-1zM522 461h1v1h-1zM526 461h1v1h-1zM527 460h1v1h-1zM528 460h1v1h-1zM532 460h1v1h-1zM533 460h1v1h-1zM534 459h1v1h-1zM538 459h1v1h-1zM539 459h1v1h-1zM540 459h1v1h-1zM544 458h1v1h-1zM545 458h1v1h-1zM546 458h1v1h-1zM550 458h1v1h-1zM551 457h1v1h-1zM552 457h1v1h-1zM556 457h1v1h-1zM557 457h1v1h-1zM558 457h1v1h-1zM562 457h1v1h-1zM563 457h1v1h-1zM564 457h1v1h-1zM568 456h1v1h-1zM569 456h1v1h-1zM570 456h1v1h-1zM574 456h1v1h-1zM575 456h1v1h-1zM576 456h1v1h-1zM580 456h1v1h-1zM581 456h1v1h-1zM582 456h1v1h-1zM586 456h1v1h-1zM587 456h1v1h-1zM588 456h1v1h-1zM592 456h1v1h-1zM593 456h1v1h-1zM594 456h1v1h-1zM598 456h1v1h-1zM599 456h1v1h-1zM600 456h1v1h-1zM604 456h1v1h-1zM605 456h1v1h-1zM606 456h1v1h-1zM610 457h1v1h-1zM611 457h1v1h-1zM612 457h1v1h-1zM616 457h1v1h-1zM617 458h1v1h-1zM618 458h1v1h-1zM622 458h1v1h-1zM623 458h1v1h-1zM624 458h1v1h-1zM628 459h1v1h-1zM629 459h1v1h-1zM630 459h1v1h-1zM634 460h1v1h-1zM635 460h1v1h-1zM636 460h1v1h-1zM640 461h1v1h-1zM641 461h1v1h-1zM642 461h1v1h-1zM646 462h1v1h-1zM647 462h1v1h-1zM648 462h1v1h-1zM652 463h1v1h-1zM653 463h1v1h-1zM654 463h1v1h-1zM658 464h1v1h-1zM659 465h1v1h-1zM660 465h1v1h-1zM664 465h1v1h-1zM665 465h1v1h-1zM666 466h1v1h-1zM670 466h1v1h-1zM671 467h1v1h-1zM672 467h1v1h-1zM676 468h1v1h-1zM677 468h1v1h-1zM678 468h1v1h-1zM682 469h1v1h-1zM683 470h1v1h-1zM684 470h1v1h-1zM688 471h1v1h-1zM689 471h1v1h-1zM690 471h1v1h-1zM694 472h1v1h-1zM695 473h1v1h-1zM696 473h1v1h-1zM700 474h1v1h-1zM701 474h1v1h-1zM702 475h1v1h-1zM706 475h1v1h-1zM707 476h1v1h-1zM708 476h1v1h-1zM712 477h1v1h-1zM713 478h1v1h-1zM714 478h1v1h-1zM718 479h1v1h-1zM719 480h1v1h-1zM720 480h1v1h-1zM724 481h1v1h-1zM725 481h1v1h-1zM726 482h1v1h-1zM730 482h1v1h-1zM731 483h1v1h-1zM732 483h1v1h-1zM736 484h1v1h-1zM737 484h1v1h-1zM738 485h1v1h-1zM742 486h1v1h-1zM743 486h1v1h-1zM744 486h1v1h-1zM748 487h1v1h-1zM749 487h1v1h-1zM750 488h1v1h-1zM754 488h1v1h-1zM755 489h1v1h-1zM756 489h1v1h-1zM760 489h1v1h-1zM761 490h1v1h-1zM762 490h1v1h-1zM766 491h1v1h-1zM767 491h1v1h-1zM768 491h1v1h-1zM772 492h1v1h-1zM773 492h1v1h-1zM774 492h1v1h-1zM778 493h1v1h-1zM779 493h1v1h-1zM780 494h1v1h-1zM784 494h1v1h-1zM785 494h1v1h-1zM786 494h1v1h-1zM790 495h1v1h-1zM791 495h1v1h-1zM792 495h1v1h-1zM796 496h1v1h-1zM797 496h1v1h-1zM798 496h1v1h-1zM802 497h1v1h-1zM803 497h1v1h-1zM804 497h1v1h-1zM808 497h1v1h-1zM809 498h1v1h-1zM810 498h1v1h-1zM814 498h1v1h-1zM815 498h1v1h-1zM816 498h1v1h-1zM820 499h1v1h-1zM821 499h1v1h-1zM822 499h1v1h-1zM826 499h1v1h-1zM827 499h1v1h-1zM828 499h1v1h-1zM832 499h1v1h-1zM833 499h1v1h-1zM834 499h1v1h-1zM838 499h1v1h-1zM839 499h1v1h-1zM840 499h1v1h-1zM844 499h1v1h-1zM845 499h1v1h-1zM846 499h1v1h-1zM850 499h1v1h-1zM851 499h1v1h-1zM852 499h1v1h-1zM856 498h1v1h-1zM857 498h1v1h-1zM858 498h1v1h-1zM862 498h1v1h-1zM863 498h1v1h-1zM864 498h1v1h-1zM868 498h1v1h-1z" fill="#FF0000"/>
</g>
<text x="7.83" y="450" font-size="9.5" fill="#000" textLength="154.23" lengthAdjust="spacingAndGlyphs">MACD(12,26,9) -0.110040 -0.115481</text>
<rect x="1107" y="439" width="2" height="1" fill="#000000"/>
<rect x="1107" y="465" width="2" height="1" fill="#000000"/>
<rect x="1107" y="502" width="2" height="1" fill="#000000"/>
<text x="1110.04" y="448" font-size="9.5" fill="#000" textLength="33.06" lengthAdjust="spacingAndGlyphs">0.09333</text>
<text x="1110.04" y="469" font-size="9.5" fill="#000" textLength="17.92" lengthAdjust="spacingAndGlyphs">0.00</text>
<text x="1110.00" y="500" font-size="9.5" fill="#000" textLength="40.49" lengthAdjust="spacingAndGlyphs">-0.131263</text>
<g clip-path="url(#crsi)">
<path d="M5 530h3v1h-3zM11 530h3v1h-3zM17 530h3v1h-3zM23 530h3v1h-3zM29 530h3v1h-3zM35 530h3v1h-3zM41 530h3v1h-3zM47 530h3v1h-3zM53 530h3v1h-3zM59 530h3v1h-3zM65 530h3v1h-3zM71 530h3v1h-3zM77 530h3v1h-3zM83 530h3v1h-3zM89 530h3v1h-3zM95 530h3v1h-3zM101 530h3v1h-3zM107 530h3v1h-3zM113 530h3v1h-3zM119 530h3v1h-3zM125 530h3v1h-3zM131 530h3v1h-3zM137 530h3v1h-3zM143 530h3v1h-3zM149 530h3v1h-3zM155 530h3v1h-3zM161 530h3v1h-3zM167 530h3v1h-3zM173 530h3v1h-3zM179 530h3v1h-3zM185 530h3v1h-3zM191 530h3v1h-3zM197 530h3v1h-3zM203 530h3v1h-3zM209 530h3v1h-3zM215 530h3v1h-3zM221 530h3v1h-3zM227 530h3v1h-3zM233 530h3v1h-3zM239 530h3v1h-3zM245 530h3v1h-3zM251 530h3v1h-3zM257 530h3v1h-3zM263 530h3v1h-3zM269 530h3v1h-3zM275 530h3v1h-3zM281 530h3v1h-3zM287 530h3v1h-3zM293 530h3v1h-3zM299 530h3v1h-3zM305 530h3v1h-3zM311 530h3v1h-3zM317 530h3v1h-3zM323 530h3v1h-3zM329 530h3v1h-3zM335 530h3v1h-3zM341 530h3v1h-3zM347 530h3v1h-3zM353 530h3v1h-3zM359 530h3v1h-3zM365 530h3v1h-3zM371 530h3v1h-3zM377 530h3v1h-3zM383 530h3v1h-3zM389 530h3v1h-3zM395 530h3v1h-3zM401 530h3v1h-3zM407 530h3v1h-3zM413 530h3v1h-3zM419 530h3v1h-3zM425 530h3v1h-3zM431 530h3v1h-3zM437 530h3v1h-3zM443 530h3v1h-3zM449 530h3v1h-3zM455 530h3v1h-3zM461 530h3v1h-3zM467 530h3v1h-3zM473 530h3v1h-3zM479 530h3v1h-3zM485 530h3v1h-3zM491 530h3v1h-3zM497 530h3v1h-3zM503 530h3v1h-3zM509 530h3v1h-3zM515 530h3v1h-3zM521 530h3v1h-3zM527 530h3v1h-3zM533 530h3v1h-3zM539 530h3v1h-3zM545 530h3v1h-3zM551 530h3v1h-3zM557 530h3v1h-3zM563 530h3v1h-3zM569 530h3v1h-3zM575 530h3v1h-3zM581 530h3v1h-3zM587 530h3v1h-3zM593 530h3v1h-3zM599 530h3v1h-3zM605 530h3v1h-3zM611 530h3v1h-3zM617 530h3v1h-3zM623 530h3v1h-3zM629 530h3v1h-3zM635 530h3v1h-3zM641 530h3v1h-3zM647 530h3v1h-3zM653 530h3v1h-3zM659 530h3v1h-3zM665 530h3v1h-3zM671 530h3v1h-3zM677 530h3v1h-3zM683 530h3v1h-3zM689 530h3v1h-3zM695 530h3v1h-3zM701 530h3v1h-3zM707 530h3v1h-3zM713 530h3v1h-3zM719 530h3v1h-3zM725 530h3v1h-3zM731 530h3v1h-3zM737 530h3v1h-3zM743 530h3v1h-3zM749 530h3v1h-3zM755 530h3v1h-3zM761 530h3v1h-3zM767 530h3v1h-3zM773 530h3v1h-3zM779 530h3v1h-3zM785 530h3v1h-3zM791 530h3v1h-3zM797 530h3v1h-3zM803 530h3v1h-3zM809 530h3v1h-3zM815 530h3v1h-3zM821 530h3v1h-3zM827 530h3v1h-3zM833 530h3v1h-3zM839 530h3v1h-3zM845 530h3v1h-3zM851 530h3v1h-3zM857 530h3v1h-3zM863 530h3v1h-3zM869 530h3v1h-3zM875 530h3v1h-3zM881 530h3v1h-3zM887 530h3v1h-3zM893 530h3v1h-3zM899 530h3v1h-3zM905 530h3v1h-3zM911 530h3v1h-3zM917 530h3v1h-3zM923 530h3v1h-3zM929 530h3v1h-3zM935 530h3v1h-3zM941 530h3v1h-3zM947 530h3v1h-3zM953 530h3v1h-3zM959 530h3v1h-3zM965 530h3v1h-3zM971 530h3v1h-3zM977 530h3v1h-3zM983 530h3v1h-3zM989 530h3v1h-3zM995 530h3v1h-3zM1001 530h3v1h-3zM1007 530h3v1h-3zM1013 530h3v1h-3zM1019 530h3v1h-3zM1025 530h3v1h-3zM1031 530h3v1h-3zM1037 530h3v1h-3zM1043 530h3v1h-3zM1049 530h3v1h-3zM1055 530h3v1h-3zM1061 530h3v1h-3zM1067 530h3v1h-3zM1073 530h3v1h-3zM1079 530h3v1h-3zM1085 530h3v1h-3zM1091 530h3v1h-3zM1097 530h3v1h-3zM1103 530h3v1h-3z" fill="#C0C0C0"/>
<path d="M5 560h3v1h-3zM11 560h3v1h-3zM17 560h3v1h-3zM23 560h3v1h-3zM29 560h3v1h-3zM35 560h3v1h-3zM41 560h3v1h-3zM47 560h3v1h-3zM53 560h3v1h-3zM59 560h3v1h-3zM65 560h3v1h-3zM71 560h3v1h-3zM77 560h3v1h-3zM83 560h3v1h-3zM89 560h3v1h-3zM95 560h3v1h-3zM101 560h3v1h-3zM107 560h3v1h-3zM113 560h3v1h-3zM119 560h3v1h-3zM125 560h3v1h-3zM131 560h3v1h-3zM137 560h3v1h-3zM143 560h3v1h-3zM149 560h3v1h-3zM155 560h3v1h-3zM161 560h3v1h-3zM167 560h3v1h-3zM173 560h3v1h-3zM179 560h3v1h-3zM185 560h3v1h-3zM191 560h3v1h-3zM197 560h3v1h-3zM203 560h3v1h-3zM209 560h3v1h-3zM215 560h3v1h-3zM221 560h3v1h-3zM227 560h3v1h-3zM233 560h3v1h-3zM239 560h3v1h-3zM245 560h3v1h-3zM251 560h3v1h-3zM257 560h3v1h-3zM263 560h3v1h-3zM269 560h3v1h-3zM275 560h3v1h-3zM281 560h3v1h-3zM287 560h3v1h-3zM293 560h3v1h-3zM299 560h3v1h-3zM305 560h3v1h-3zM311 560h3v1h-3zM317 560h3v1h-3zM323 560h3v1h-3zM329 560h3v1h-3zM335 560h3v1h-3zM341 560h3v1h-3zM347 560h3v1h-3zM353 560h3v1h-3zM359 560h3v1h-3zM365 560h3v1h-3zM371 560h3v1h-3zM377 560h3v1h-3zM383 560h3v1h-3zM389 560h3v1h-3zM395 560h3v1h-3zM401 560h3v1h-3zM407 560h3v1h-3zM413 560h3v1h-3zM419 560h3v1h-3zM425 560h3v1h-3zM431 560h3v1h-3zM437 560h3v1h-3zM443 560h3v1h-3zM449 560h3v1h-3zM455 560h3v1h-3zM461 560h3v1h-3zM467 560h3v1h-3zM473 560h3v1h-3zM479 560h3v1h-3zM485 560h3v1h-3zM491 560h3v1h-3zM497 560h3v1h-3zM503 560h3v1h-3zM509 560h3v1h-3zM515 560h3v1h-3zM521 560h3v1h-3zM527 560h3v1h-3zM533 560h3v1h-3zM539 560h3v1h-3zM545 560h3v1h-3zM551 560h3v1h-3zM557 560h3v1h-3zM563 560h3v1h-3zM569 560h3v1h-3zM575 560h3v1h-3zM581 560h3v1h-3zM587 560h3v1h-3zM593 560h3v1h-3zM599 560h3v1h-3zM605 560h3v1h-3zM611 560h3v1h-3zM617 560h3v1h-3zM623 560h3v1h-3zM629 560h3v1h-3zM635 560h3v1h-3zM641 560h3v1h-3zM647 560h3v1h-3zM653 560h3v1h-3zM659 560h3v1h-3zM665 560h3v1h-3zM671 560h3v1h-3zM677 560h3v1h-3zM683 560h3v1h-3zM689 560h3v1h-3zM695 560h3v1h-3zM701 560h3v1h-3zM707 560h3v1h-3zM713 560h3v1h-3zM719 560h3v1h-3zM725 560h3v1h-3zM731 560h3v1h-3zM737 560h3v1h-3zM743 560h3v1h-3zM749 560h3v1h-3zM755 560h3v1h-3zM761 560h3v1h-3zM767 560h3v1h-3zM773 560h3v1h-3zM779 560h3v1h-3zM785 560h3v1h-3zM791 560h3v1h-3zM797 560h3v1h-3zM803 560h3v1h-3zM809 560h3v1h-3zM815 560h3v1h-3zM821 560h3v1h-3zM827 560h3v1h-3zM833 560h3v1h-3zM839 560h3v1h-3zM845 560h3v1h-3zM851 560h3v1h-3zM857 560h3v1h-3zM863 560h3v1h-3zM869 560h3v1h-3zM875 560h3v1h-3zM881 560h3v1h-3zM887 560h3v1h-3zM893 560h3v1h-3zM899 560h3v1h-3zM905 560h3v1h-3zM911 560h3v1h-3zM917 560h3v1h-3zM923 560h3v1h-3zM929 560h3v1h-3zM935 560h3v1h-3zM941 560h3v1h-3zM947 560h3v1h-3zM953 560h3v1h-3zM959 560h3v1h-3zM965 560h3v1h-3zM971 560h3v1h-3zM977 560h3v1h-3zM983 560h3v1h-3zM989 560h3v1h-3zM995 560h3v1h-3zM1001 560h3v1h-3zM1007 560h3v1h-3zM1013 560h3v1h-3zM1019 560h3v1h-3zM1025 560h3v1h-3zM1031 560h3v1h-3zM1037 560h3v1h-3zM1043 560h3v1h-3zM1049 560h3v1h-3zM1055 560h3v1h-3zM1061 560h3v1h-3zM1067 560h3v1h-3zM1073 560h3v1h-3zM1079 560h3v1h-3zM1085 560h3v1h-3zM1091 560h3v1h-3zM1097 560h3v1h-3zM1103 560h3v1h-3z" fill="#C0C0C0"/>
<polyline points="4.5,550.6 12.5,550.6 20.5,547.3 28.5,548.3 36.5,553.2 44.5,552.2 52.5,550.6 60.5,552.2 68.5,550.6 76.5,551.5 84.5,552.5 92.5,552.5 100.5,552.5 108.5,548.3 116.5,548.3 124.5,548.3 132.5,531.0 140.5,533.4 148.5,532.4 156.5,532.4 164.5,533.4 172.5,540.4 180.5,540.4 188.5,538.5 196.5,540.4 204.5,540.4 212.5,540.4 220.5,531.4 228.5,526.2 236.5,532.4 244.5,528.5 252.5,527.2 260.5,533.4 268.5,538.2 276.5,534.3 284.5,533.3 292.5,536.3 300.5,538.2 308.5,539.5 316.5,540.4 324.5,541.5 332.5,545.4 340.5,544.3 348.5,541.5 356.5,542.4 364.5,543.4 372.5,545.4 380.5,545.4 388.5,546.4 396.5,549.3 404.5,553.8 412.5,556.4 420.5,548.7 428.5,544.5 436.5,543.4 444.5,544.3 452.5,541.5 460.5,545.4 468.5,549.3 476.5,542.8 484.5,536.5 492.5,540.4 500.5,538.5 508.5,543.4 516.5,541.5 524.5,540.4 532.5,538.5 540.5,541.5 548.5,539.5 556.5,538.5 564.5,537.3 572.5,544.2 580.5,543.5 588.5,544.5 596.5,543.5 604.5,545.2 612.5,549.0 620.5,551.4 628.5,548.4 636.5,550.4 644.5,552.3 652.5,554.3 660.5,555.6 668.5,559.5 676.5,560.4 684.5,560.4 692.5,563.4 700.5,557.2 708.5,561.2 716.5,564.2 724.5,563.4 732.5,564.2 740.5,561.1 748.5,565.0 756.5,564.2 764.5,565.0 772.5,563.4 780.5,565.3 788.5,562.6 796.5,563.4 804.5,563.4 812.5,564.2 820.5,565.3 828.5,563.4 836.5,561.1 844.5,564.2 852.5,563.4 860.5,564.2 868.5,565.3" fill="none" stroke="#1E90FF" stroke-width="1" shape-rendering="crispEdges"/>
</g>
<text x="7.43" y="518" font-size="9.5" fill="#000" textLength="68.76" lengthAdjust="spacingAndGlyphs">RSI(14) 24.4075</text>
<rect x="1107" y="506" width="2" height="1" fill="#000000"/>
<rect x="1107" y="583" width="2" height="1" fill="#000000"/>
<text x="1109.27" y="516" font-size="9.5" fill="#000" textLength="16.12" lengthAdjust="spacingAndGlyphs">100</text>
<text x="1109.03" y="534" font-size="9.5" fill="#000" textLength="10.34" lengthAdjust="spacingAndGlyphs">70</text>
<text x="1109.15" y="564" font-size="9.5" fill="#000" textLength="10.21" lengthAdjust="spacingAndGlyphs">30</text>
<text x="1109.59" y="581" font-size="9.5" fill="#000" textLength="5.82" lengthAdjust="spacingAndGlyphs">0</text>
<rect x="4" y="585" width="1" height="3" fill="#000000"/>
<text x="2.54" y="597" font-size="9.5" fill="#000" textLength="50.49" lengthAdjust="spacingAndGlyphs">20 Jan 2019</text>
<rect x="68" y="585" width="1" height="3" fill="#000000"/>
<text x="66.28" y="597" font-size="9.5" fill="#000" textLength="53.16" lengthAdjust="spacingAndGlyphs">17 Mar 2019</text>
<rect x="132" y="585" width="1" height="3" fill="#000000"/>
<text x="130.26" y="597" font-size="9.5" fill="#000" textLength="56.19" lengthAdjust="spacingAndGlyphs">12 May 2019</text>
<rect x="196" y="585" width="1" height="3" fill="#000000"/>
<text x="194.53" y="597" font-size="9.5" fill="#000" textLength="42.60" lengthAdjust="spacingAndGlyphs">7 Jul 2019</text>
<rect x="260" y="585" width="1" height="3" fill="#000000"/>
<text x="258.29" y="597" font-size="9.5" fill="#000" textLength="47.64" lengthAdjust="spacingAndGlyphs">1 Sep 2019</text>
<rect x="324" y="585" width="1" height="3" fill="#000000"/>
<text x="322.53" y="597" font-size="9.5" fill="#000" textLength="51.62" lengthAdjust="spacingAndGlyphs">27 Oct 2019</text>
<rect x="388" y="585" width="1" height="3" fill="#000000"/>
<text x="386.74" y="597" font-size="9.5" fill="#000" textLength="52.29" lengthAdjust="spacingAndGlyphs">22 Dec 2019</text>
<rect x="452" y="585" width="1" height="3" fill="#000000"/>
<text x="450.89" y="597" font-size="9.5" fill="#000" textLength="52.17" lengthAdjust="spacingAndGlyphs">16 Feb 2020</text>
<rect x="516" y="585" width="1" height="3" fill="#000000"/>
<text x="514.37" y="597" font-size="9.5" fill="#000" textLength="51.81" lengthAdjust="spacingAndGlyphs">12 Apr 2020</text>
<rect x="580" y="585" width="1" height="3" fill="#000000"/>
<text x="578.13" y="597" font-size="9.5" fill="#000" textLength="45.93" lengthAdjust="spacingAndGlyphs">7 Jun 2020</text>
<rect x="644" y="585" width="1" height="3" fill="#000000"/>
<text x="642.52" y="597" font-size="9.5" fill="#000" textLength="48.66" lengthAdjust="spacingAndGlyphs">2 Aug 2020</text>
<rect x="708" y="585" width="1" height="3" fill="#000000"/>
<text x="707.25" y="597" font-size="9.5" fill="#000" textLength="51.51" lengthAdjust="spacingAndGlyphs">27 Sep 2020</text>
<rect x="772" y="585" width="1" height="3" fill="#000000"/>
<text x="770.93" y="597" font-size="9.5" fill="#000" textLength="53.54" lengthAdjust="spacingAndGlyphs">22 Nov 2020</text>
<rect x="836" y="585" width="1" height="3" fill="#000000"/>
<text x="834.71" y="597" font-size="9.5" fill="#000" textLength="49.73" lengthAdjust="spacingAndGlyphs">17 Jan 2021</text>
<rect x="0" y="606" width="1154" height="1" fill="#FFFFFF"/>
<rect x="0" y="607" width="1154" height="1" fill="#000000"/>
<rect x="0" y="608" width="1154" height="19" fill="#F0F0F0"/>
<rect x="0" y="627" width="1154" height="2" fill="#FCFCFC"/>
<rect x="0" y="608" width="1" height="18" fill="#696969"/>
<rect x="418" y="605" width="118" height="20" fill="#FFFFFF"/>
<rect x="417" y="607" width="1" height="19" fill="#000000"/>
<rect x="536" y="607" width="1" height="19" fill="#000000"/>
<rect x="417" y="625" width="120" height="1" fill="#000000"/>
<text x="16.32" y="622" font-size="12.5" fill="#6D6D6D" textLength="80.31" lengthAdjust="spacingAndGlyphs">EURUSD,Daily</text>
<text x="120.28" y="622" font-size="12.5" fill="#6D6D6D" textLength="81.75" lengthAdjust="spacingAndGlyphs">AUDUSD,Daily</text>
<text x="221.96" y="622" font-size="12.5" fill="#6D6D6D" textLength="79.66" lengthAdjust="spacingAndGlyphs">USDCHF,Daily</text>
<text x="323.57" y="622" font-size="12.5" fill="#6D6D6D" textLength="81.16" lengthAdjust="spacingAndGlyphs">USDCAD,Daily</text>
<text x="427.44" y="622" font-size="12.5" fill="#000" textLength="97.38" lengthAdjust="spacingAndGlyphs">USDCNH,Weekly</text>
<text x="546.32" y="622" font-size="12.5" fill="#6D6D6D" textLength="67.57" lengthAdjust="spacingAndGlyphs">EURGBP,H1</text>
<text x="635.59" y="622" font-size="12.5" fill="#6D6D6D" textLength="70.51" lengthAdjust="spacingAndGlyphs">NZDUSD,H1</text>
<text x="728.71" y="622" font-size="12.5" fill="#6D6D6D" textLength="68.68" lengthAdjust="spacingAndGlyphs">GBPUSD,H1</text>
<rect x="109" y="610" width="1" height="13" fill="#6D6D6D"/>
<rect x="213" y="610" width="1" height="13" fill="#6D6D6D"/>
<rect x="314" y="610" width="1" height="13" fill="#6D6D6D"/>
<rect x="625" y="610" width="1" height="13" fill="#6D6D6D"/>
<rect x="717" y="610" width="1" height="13" fill="#6D6D6D"/>
<rect x="809" y="610" width="1" height="13" fill="#6D6D6D"/>
<path d="M1125.5,612.5 L1121.5,616 L1125.5,619.5 Z" fill="#A0A0A0" shape-rendering="geometricPrecision"/>
<path d="M1141,612.5 L1145,616 L1141,619.5 Z" fill="#A0A0A0" shape-rendering="geometricPrecision"/>
<rect x="1152" y="608" width="1" height="19" fill="#E3E3E3"/></svg></body></html>
